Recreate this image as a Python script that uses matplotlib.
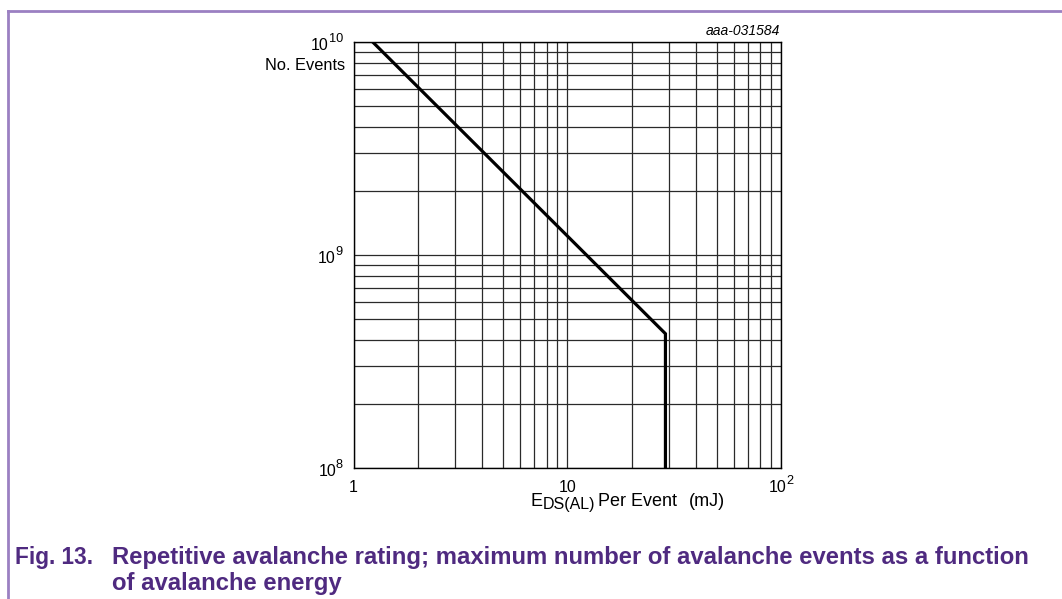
import matplotlib
matplotlib.use("Agg")
import matplotlib.pyplot as plt
from matplotlib.lines import Line2D
from matplotlib.ticker import LogLocator, NullFormatter, FixedLocator

plt.rcParams['font.family'] = ['Liberation Sans', 'DejaVu Sans']

# Data
energy_mj = [1.23, 28.8, 28.8]
events = [1.0e10, 4.27e8, 1.0e8]
x_ticks = [1, 10, 100]
x_tick_labels = [('1', ''), ('10', ''), ('10', '2')]
y_ticks = [1e8, 1e9, 1e10]
y_tick_labels = [('10', '8'), ('10', '9'), ('10', '10')]

W, H = 1062, 599
fig = plt.figure(figsize=(W / 100, H / 100), dpi=100)
ax = fig.add_axes([353.5 / W, 1 - 468 / H, (781 - 353.5) / W, (468 - 42) / H])
ax.set_xscale('log')
ax.set_yscale('log')
ax.set_xlim(1, 100)
ax.set_ylim(1e8, 1e10)

ax.plot(energy_mj, events, color='black', lw=2.3, solid_joinstyle='miter', zorder=3)

ax.xaxis.set_major_locator(FixedLocator(x_ticks))
ax.yaxis.set_major_locator(FixedLocator(y_ticks))
ax.xaxis.set_minor_locator(LogLocator(base=10, subs=range(2, 10)))
ax.yaxis.set_minor_locator(LogLocator(base=10, subs=range(2, 10)))
ax.xaxis.set_minor_formatter(NullFormatter())
ax.yaxis.set_minor_formatter(NullFormatter())
ax.set_xticklabels([])
ax.set_yticklabels([])
ax.tick_params(which='both', length=0)
ax.grid(which='both', color='#2a2a2a', lw=0.9)
for s in ax.spines.values():
    s.set_color('black')
    s.set_linewidth(1.0)

renderer = fig.canvas.get_renderer()


def measure(txt, size, **kw):
    t = fig.text(0, 0, txt, fontsize=size, **kw)
    w = t.get_window_extent(renderer).width
    t.remove()
    return w


def draw_runs(x, y, runs, ha='left', **kw):
    """x, y in pixels from top-left; y is the baseline. runs: (text, size, dy, gap)."""
    widths = [measure(t, s, **kw) for t, s, dy, g in runs]
    total = sum(widths) + sum(g for t, s, dy, g in runs)
    if ha == 'center':
        cx = x - total / 2
    elif ha == 'right':
        cx = x - total
    else:
        cx = x
    for (t, s, dy, g), w in zip(runs, widths):
        cx += g
        fig.text(cx / W, 1 - (y + dy) / H, t, fontsize=s, ha='left', va='baseline', **kw)
        cx += w


def to_px(xv, yv):
    dx, dy = ax.transData.transform((xv, yv))
    return dx, H - dy


base_size, sup_size = 11.5, 9.2
# x tick labels
for xv, (b, sup) in zip(x_ticks, x_tick_labels):
    px, py = to_px(xv, 1e8)
    runs = [(b, base_size, 0, 0)]
    if sup:
        runs.append((sup, sup_size, -8, 0))
    draw_runs(px, py + 24.5, runs, ha='center')

# y tick labels
for yv, (b, sup) in zip(y_ticks, y_tick_labels):
    px, py = to_px(1, yv)
    runs = [(b, base_size, 0, 0), (sup, sup_size, -8, 0)]
    draw_runs(px - 10.5, py + 8, runs, ha='right')

fig.text(345 / W, 1 - 66 / H, 'No. Events', ha='right', va='center', fontsize=11.8)
draw_runs(628, 506, [('E', 13, 0, 0), ('DS(AL)', 11.5, 3, 0),
                     ('Per Event', 13, 0, 3), ('(mJ)', 13, 0, 12)], ha='center')
fig.text(780 / W, 1 - 31 / H, 'aaa-031584', ha='right', va='center',
         fontsize=10, style='italic')

# frame lines
purple = '#9b80c2'
fig.add_artist(Line2D([8 / W, 1], [1 - 11 / H, 1 - 11 / H], color=purple, lw=2,
                      transform=fig.transFigure))
fig.add_artist(Line2D([8 / W, 8 / W], [1 - 11 / H, 0], color=purple, lw=2,
                      transform=fig.transFigure))

cap_color = '#4f2a80'
cap_size = 17.2
fig.text(15 / W, 1 - 564 / H, 'Fig. 13.', ha='left', va='baseline',
         fontsize=16.3, fontweight='bold', color=cap_color)
fig.text(112 / W, 1 - 564 / H,
         'Repetitive avalanche rating; maximum number of avalanche events as a function',
         ha='left', va='baseline', fontsize=cap_size, fontweight='bold', color=cap_color)
fig.text(112 / W, 1 - 590 / H, 'of avalanche energy', ha='left', va='baseline',
         fontsize=cap_size, fontweight='bold', color=cap_color)

fig.savefig('out.png', dpi=100)
